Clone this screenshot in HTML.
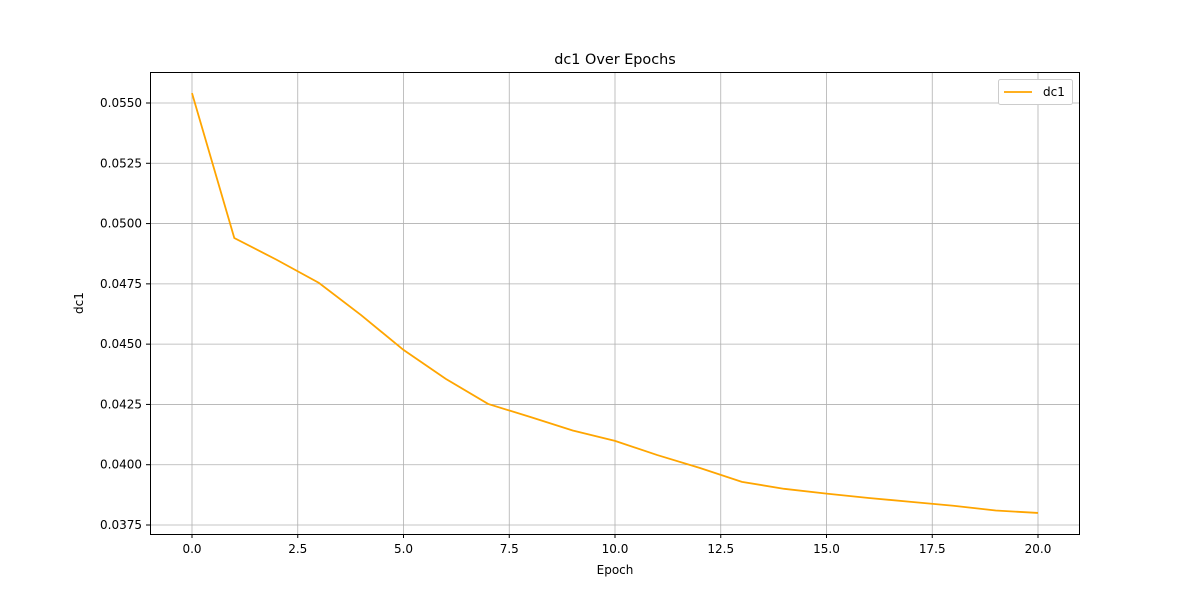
<!DOCTYPE html>
<html><head><meta charset="utf-8"><style>
body{margin:0;background:#fff;font-family:"Liberation Sans","DejaVu Sans",sans-serif;}
svg text{font-family:"DejaVu Sans","Liberation Sans",sans-serif;}
</style></head><body>
<svg id="chart" width="1200" height="600">
<text x="615" y="64" font-size="14.4" text-anchor="middle">dc1 Over Epochs</text>
<g id="grid"></g><g id="xt"></g><g id="yt"></g>
<polyline id="line" fill="none" stroke="#ffa500" stroke-width="1.8"/>
<rect x="150.5" y="72.5" width="929" height="462" fill="none" stroke="#000" stroke-width="1"/>
<text x="615" y="574" font-size="12" text-anchor="middle">Epoch</text>
<text x="83" y="303" font-size="12" text-anchor="middle" transform="rotate(-90 83 303)">dc1</text>
<g>
<rect x="998.5" y="79.5" width="74" height="25" fill="#fff" stroke="#ccc" rx="2"/>
<line x1="1004" y1="92" x2="1032" y2="92" stroke="#ffa500" stroke-width="1.8"/>
<text x="1043" y="96" font-size="12">dc1</text>
</g>
</svg>
<script>
const epochs=[0,1,2,3,4,5,6,7,8,9,10,11,12,13,14,15,16,17,18,19,20];
const dc1=[0.05541,0.04940,0.04850,0.04754,0.04620,0.04476,0.04356,0.04252,0.04198,0.04142,0.04099,0.04040,0.03987,0.03929,0.03900,0.03880,0.03862,0.03846,0.03830,0.03810,0.03800];
const xTicks=[0,2.5,5,7.5,10,12.5,15,17.5,20];
const yTicks=[0.0375,0.0400,0.0425,0.0450,0.0475,0.0500,0.0525,0.0550];
const X=v=>192+v*(1038-192)/20;
const Y=v=>525-(v-0.0375)*(525-103)/0.0175;
const ns="http://www.w3.org/2000/svg";
const g=document.getElementById('grid'),xt=document.getElementById('xt'),yt=document.getElementById('yt');
function mk(p,t,a){const e=document.createElementNS(ns,t);for(const k in a)e.setAttribute(k,a[k]);p.appendChild(e);return e;}
xTicks.forEach(v=>{const x=X(v);
const l=mk(g,'line',{x1:x,x2:x,y1:72,y2:534,stroke:'#b0b0b0','stroke-width':0.8});


mk(xt,'line',{x1:x,x2:x,y1:534,y2:538,stroke:'#000'});
const t=mk(xt,'text',{x:x,y:553,'font-size':12,'text-anchor':'middle'});t.textContent=v.toFixed(1);

});
yTicks.forEach(v=>{const y=Y(v);
const l=mk(g,'line',{x1:150,x2:1080,y1:y,y2:y,stroke:'#b0b0b0','stroke-width':0.8});


mk(yt,'line',{x1:146,x2:150,y1:y,y2:y,stroke:'#000'});
const t=mk(yt,'text',{x:142,y:y+4,'font-size':12,'text-anchor':'end'});t.textContent=v.toFixed(4);

});
document.getElementById('line').setAttribute('points',epochs.map((e,i)=>X(e)+','+Y(dc1[i])).join(' '));
</script>
</body></html>
